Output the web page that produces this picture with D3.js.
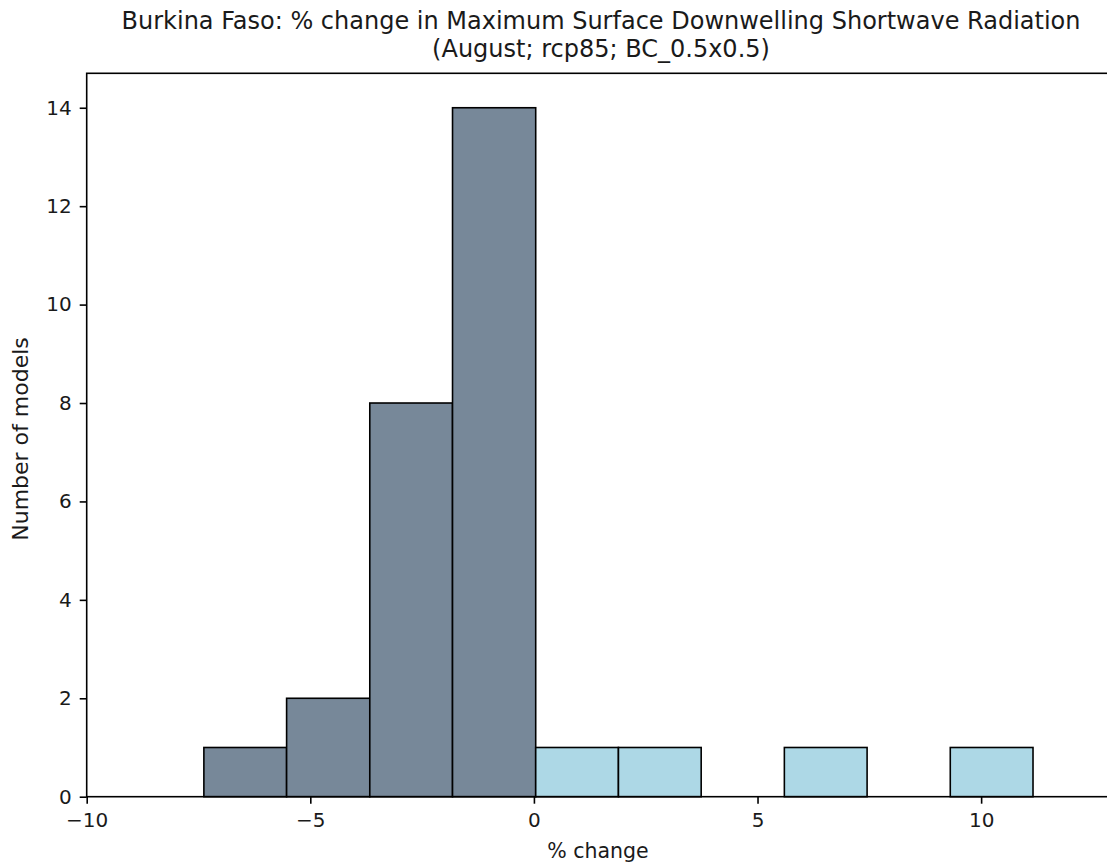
<!DOCTYPE html>
<html>
<head>
<meta charset="utf-8">
<script src="https://cdn.jsdelivr.net/npm/d3@7"></script>
<style>
body { margin: 0; background: #fff; overflow: hidden; }
svg { display: block; font-family: "DejaVu Sans", sans-serif; }
</style>
</head>
<body>
<svg></svg>
<script>
// histogram data
var binEdges = [-7.38, -5.53, -3.67, -1.82, 0.04, 1.89, 3.74, 5.60, 7.45, 9.31, 11.16]
var counts = [1, 2, 8, 14, 1, 1, 0, 1, 0, 1]
var xTicks = [-10, -5, 0, 5, 10]
var yTicks = [0, 2, 4, 6, 8, 10, 12, 14]
var titleLines = ['Burkina Faso: % change in Maximum Surface Downwelling Shortwave Radiation', '(August; rcp85; BC_0.5x0.5)']

var width = 1107, height = 865
var margin = {left: 86.7, top: 73.3, bottom: 68.3}
var plotRight = 1115.3

var svg = d3.select('svg').attr('width', width).attr('height', height)

var x = d3.scaleLinear().domain([-10, 13]).range([margin.left, plotRight])
var y = d3.scaleLinear().domain([0, 14.7]).range([height - margin.bottom, margin.top])

var bins = counts.map(function(c, i) {return {x0: binEdges[i], x1: binEdges[i + 1], n: c}})

// bars
svg.append('g').selectAll('rect')
	.data(bins.filter(function(b) {return b.n > 0}))
	.enter().append('rect')
	.attr('x', function(b) {return x(b.x0)})
	.attr('y', function(b) {return y(b.n)})
	.attr('width', function(b) {return x(b.x1) - x(b.x0)})
	.attr('height', function(b) {return y(0) - y(b.n)})
	.attr('fill', function(b) {return b.x1 <= 0.5 ? '#778899' : '#add8e6'})
	.attr('stroke', '#000')
	.attr('stroke-width', 1.6)

// axes
var xAxis = svg.append('g')
	.attr('transform', 'translate(0,' + y(0) + ')')
	.call(d3.axisBottom(x).tickValues(xTicks).tickSize(7).tickPadding(9)
		.tickFormat(function(d) {return d < 0 ? '\u2212' + Math.abs(d) : d}))
var yAxis = svg.append('g')
	.attr('transform', 'translate(' + margin.left + ',0)')
	.call(d3.axisLeft(y).tickValues(yTicks).tickSize(7).tickPadding(8))

;[xAxis, yAxis].forEach(function(a) {
	a.select('.domain').remove()
	a.selectAll('.tick line').attr('stroke', '#000').attr('stroke-width', 1.6)
	a.selectAll('.tick text').attr('fill', '#1a1a1a').style('font-size', '20px').style('font-family', '"DejaVu Sans", sans-serif')
})

// spines
svg.append('rect')
	.attr('x', margin.left).attr('y', margin.top)
	.attr('width', plotRight - margin.left).attr('height', y(0) - margin.top)
	.attr('fill', 'none').attr('stroke', '#000').attr('stroke-width', 1.6)

// labels
var cx = (margin.left + plotRight) / 2
svg.append('g').selectAll('text')
	.data(titleLines)
	.enter().append('text')
	.attr('x', cx)
	.attr('y', function(d, i) {return 29 + i * 28})
	.attr('text-anchor', 'middle')
	.style('font-size', '24px')
	.attr('fill', '#1a1a1a')
	.text(function(d) {return d})

svg.append('text')
	.attr('x', cx - 3).attr('y', 858)
	.attr('text-anchor', 'middle')
	.style('font-size', '20.5px')
	.attr('fill', '#1a1a1a')
	.text('% change')

svg.append('text')
	.attr('transform', 'translate(28,439) rotate(-90)')
	.attr('text-anchor', 'middle')
	.style('font-size', '22px')
	.attr('fill', '#1a1a1a')
	.text('Number of models')
</script>
</body>
</html>
